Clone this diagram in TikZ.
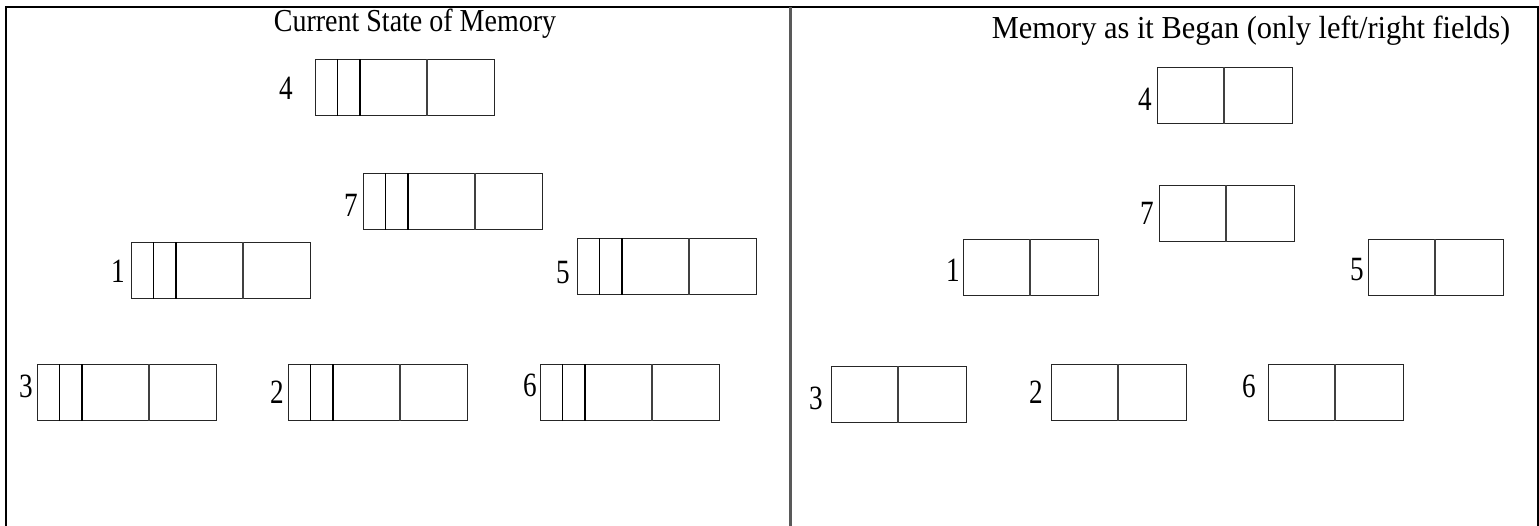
\documentclass[tikz,border=0pt]{standalone}
\usepackage{fontspec}
\setmainfont{Liberation Serif}
\newcommand{\narrow}[2]{\scalebox{#1}[1]{#2}}
\begin{document}
\begin{tikzpicture}[x=1pt,y=-1pt,
  frame/.style={draw=black, line width=1.6pt},
  divider/.style={draw=black!65, line width=3pt},
  cellL/.style={draw=black!85, line width=1.3pt, minimum width=179pt, minimum height=56pt, inner sep=0pt, anchor=north west},
  cellR/.style={draw=black!85, line width=1.3pt, minimum width=135pt, minimum height=56pt, inner sep=0pt, anchor=north west},
  septhick/.style={draw=black, line width=1.6pt},
  septhin/.style={draw=black!75, line width=1.1pt},
  lab/.style={font=\fontsize{34}{38}\selectfont, inner sep=0pt},
  ttl/.style={font=\fontsize{32}{36}\selectfont, inner sep=0pt}]
\useasboundingbox (0,0) rectangle (1539,525);
% frame
\draw[frame] (6,530) -- (6,7) -- (1538,7) -- (1538,530);
\draw[divider] (790,7) -- (790,530);
% titles
\node[ttl] (t1) at (415,24) {\narrow{0.875}{Current State of Memory}};
\node[ttl] (t2) at (1251,31) {\narrow{0.95}{Memory as it Began (only left/right fields)}};
% left panel boxes
\foreach \n/\x/\y/\lx/\ly/\t in {c4/315/59/286/88/4, c7/363/173/351/205/7, c1/131/242/118/271/1, c5/577/238/563/273/5, c3/37/364/26/386/3, c2/288/364/277/392/2, c6/540/364/530/385/6}{
  \node[cellL] (\n) at (\x,\y) {};
  \draw[septhick] ([xshift=22.5pt]\n.north west) -- ([xshift=22.5pt]\n.south west);
  \draw[septhick] ([xshift=45pt]\n.north west) -- ([xshift=45pt]\n.south west);
  \draw[septhin] ([xshift=112pt]\n.north west) -- ([xshift=112pt]\n.south west);
  \node[lab] (l\n) at (\lx,\ly) {\narrow{0.8}{\t}};
}
% right panel boxes
\foreach \n/\x/\y/\lx/\ly/\t in {r4/1157/67/1145/99/4, r7/1159/185/1147/213/7, r1/963/239/953/270/1, r5/1368/239/1357/270/5, r3/831/366/816/398/3, r2/1051/364/1036/392/2, r6/1268/364/1249/386/6}{
  \node[cellR] (\n) at (\x,\y) {};
  \draw[septhin] ([xshift=67pt]\n.north west) -- ([xshift=67pt]\n.south west);
  \node[lab] (l\n) at (\lx,\ly) {\narrow{0.8}{\t}};
}
\end{tikzpicture}
\end{document}
